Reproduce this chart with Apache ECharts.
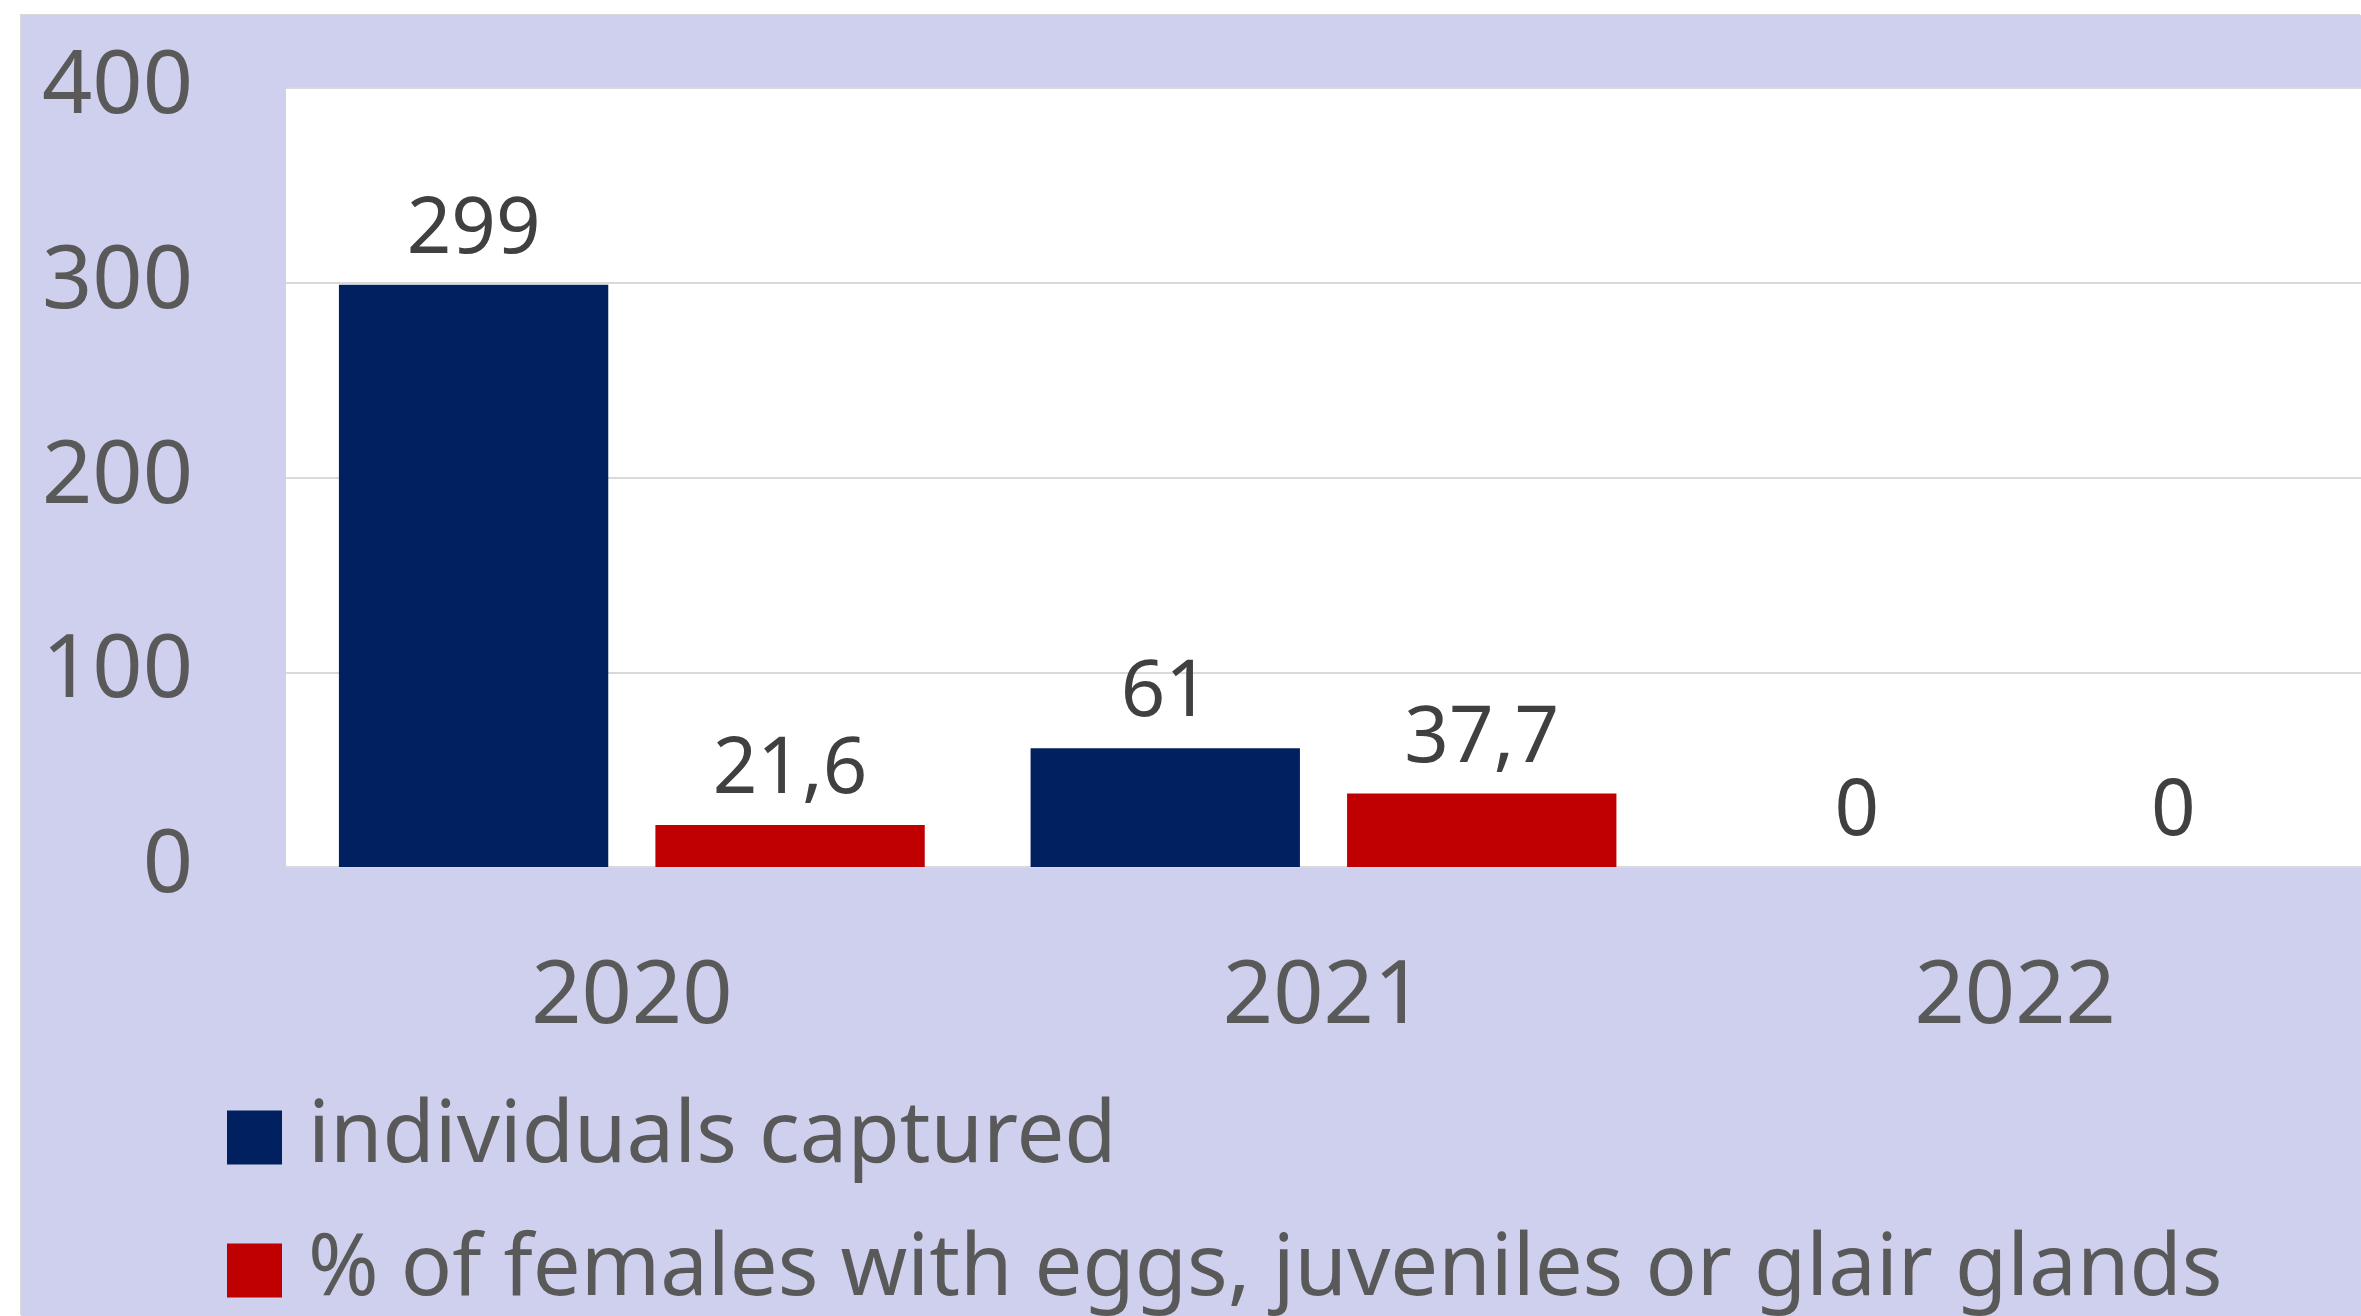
<!DOCTYPE html>
<html>
<head>
<meta charset="utf-8">
<script src="https://cdn.jsdelivr.net/npm/echarts@6/dist/echarts.min.js"></script>
<style>
  html, body { margin: 0; padding: 0; background: #fff; }
  #chart { position: absolute; left: 21px; top: 15px; width: 2340px; height: 1301px;
           box-shadow: -1px -1px 0 #d9d9d9; }
</style>
</head>
<body>
<div id="chart"></div>
<script>
var years = ['2020', '2021', '2022'];
var captured = [299, 61, 0];
var females = [21.6, 37.7, 0];
var seriesNames = ['individuals captured', '% of females with eggs, juveniles or glair glands'];

var FONT = '"Comic Sans MS", "Noto Sans", sans-serif';

// data labels use a comma as decimal separator
function commaFmt(p) {
	return String(p.value).replace('.', ',');
}

// one legend block per series so they stack like the original
function legendRow(name, top) {
	return {
		left: 206,
		top: top,
		padding: 0,
		itemWidth: 55,
		itemHeight: 54,
		icon: 'rect',
		data: [name],
		textStyle: { fontFamily: FONT, fontSize: 85, color: '#595959', lineHeight: 54, padding: [0, 0, 0, 21] }
	};
}

var chart = echarts.init(document.getElementById('chart'));

var option = {
	backgroundColor: '#CFD0EE',
	animation: false,
	textStyle: { fontFamily: FONT },
	grid: {
		left: 265,
		top: 73,
		right: 0,
		bottom: 449,
		show: true,
		backgroundColor: '#ffffff',
		borderWidth: 0
	},
	legend: [
		legendRow(seriesNames[0], 1080),
		legendRow(seriesNames[1], 1213)
	],
	xAxis: {
		type: 'category',
		data: years,
		axisLine: { show: true, lineStyle: { color: '#d9d9d9', width: 2 } },
		axisTick: { show: false },
		axisLabel: { fontFamily: FONT, fontSize: 88, color: '#595959', margin: 87 }
	},
	yAxis: {
		type: 'value',
		min: 0,
		max: 400,
		interval: 100,
		axisLine: { show: false },
		axisTick: { show: false },
		splitLine: { lineStyle: { color: '#d9d9d9', width: 2 } },
		axisLabel: { fontFamily: FONT, fontSize: 88, color: '#595959', margin: 93 }
	},
	series: [
		{
			name: seriesNames[0],
			type: 'bar',
			data: captured,
			barGap: '17.5%',
			barCategoryGap: '15.3%',
			itemStyle: { color: '#002060' },
			label: { show: true, position: 'top', distance: 15, fontFamily: FONT, fontSize: 78, color: '#404040', formatter: commaFmt }
		},
		{
			name: seriesNames[1],
			type: 'bar',
			data: females,
			itemStyle: { color: '#C00000' },
			label: { show: true, position: 'top', distance: 15, fontFamily: FONT, fontSize: 78, color: '#404040', formatter: commaFmt }
		}
	]
};

chart.setOption(option);
</script>
</body>
</html>
